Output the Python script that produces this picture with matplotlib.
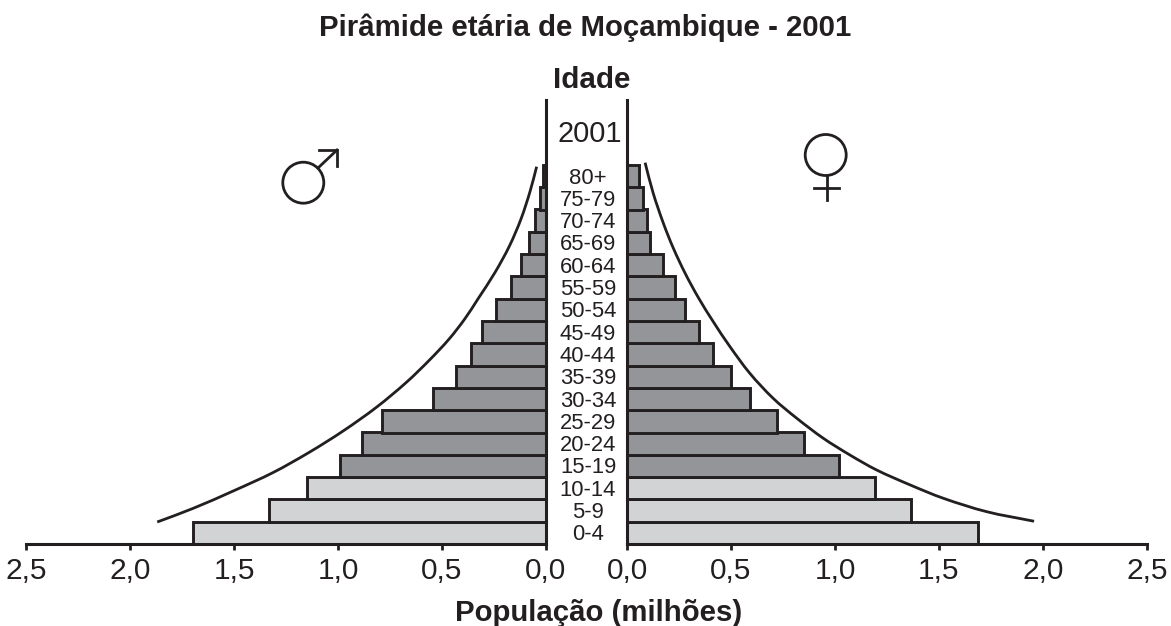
import matplotlib
matplotlib.use("Agg")
import matplotlib.pyplot as plt
from matplotlib.lines import Line2D
from matplotlib.patches import Circle
from matplotlib.path import Path
from matplotlib.patches import PathPatch
import numpy as np

plt.rcParams['font.family'] = ['Liberation Sans', 'DejaVu Sans']

age_groups = ["0-4", "5-9", "10-14", "15-19", "20-24", "25-29", "30-34", "35-39", "40-44",
              "45-49", "50-54", "55-59", "60-64", "65-69", "70-74", "75-79", "80+"]
male = [1.695, 1.33, 1.15, 0.99, 0.885, 0.79, 0.545, 0.435, 0.36,
        0.31, 0.24, 0.17, 0.12, 0.08, 0.055, 0.03, 0.016]
female = [1.686, 1.367, 1.19, 1.02, 0.853, 0.723, 0.593, 0.50, 0.415,
          0.348, 0.28, 0.23, 0.175, 0.112, 0.095, 0.075, 0.06]
light_groups = 3  # the three youngest groups are drawn in light grey

male_curve_val = [1.869, 1.696, 1.503, 1.311, 1.135, 0.975, 0.814, 0.670, 0.558, 0.466,
                  0.390, 0.325, 0.245, 0.176, 0.120, 0.077, 0.045]
male_curve_age = [0.987, 1.60, 2.38, 3.21, 4.13, 5.07, 6.14, 7.26, 8.27, 9.19,
                  10.10, 11.02, 12.18, 13.36, 14.58, 15.80, 16.92]
female_curve_val = [1.957, 1.729, 1.521, 1.361, 1.200, 1.072, 0.944, 0.816, 0.703, 0.591, 0.495,
                    0.416, 0.343, 0.279, 0.223, 0.175, 0.126, 0.087]
female_curve_age = [1.02, 1.45, 2.05, 2.65, 3.32, 3.99, 4.74, 5.64, 6.53, 7.65, 8.85,
                    9.95, 11.05, 12.15, 13.26, 14.38, 15.73, 17.10]

xticks = [0, 0.5, 1.0, 1.5, 2.0, 2.5]
xticklabels = ["0,0", "0,5", "1,0", "1,5", "2,0", "2,5"]

INK = "#231f20"
DARK = "#939598"
LIGHT = "#d1d3d4"
W, H = 1171, 626
PX_PER_VAL = 208
PX_PER_ROW = 22.3

fig = plt.figure(figsize=(W / 100, H / 100), dpi=100, facecolor="white")


def make_axes(x0, x1, reverse):
    y_top, y_base = 100, 544
    ax = fig.add_axes([x0 / W, 1 - y_base / H, (x1 - x0) / W, (y_base - y_top) / H])
    ax.set_xlim(2.5, 0) if reverse else ax.set_xlim(0, 2.5)
    ax.set_ylim(0, (y_base - y_top) / PX_PER_ROW)
    ax.patch.set_alpha(0)
    for s in ax.spines.values():
        s.set_visible(False)
    ax.spines['bottom'].set_visible(True)
    ax.spines['bottom'].set_linewidth(2.2)
    ax.spines['bottom'].set_color(INK)
    inner = 'right' if reverse else 'left'
    ax.spines[inner].set_visible(True)
    ax.spines[inner].set_linewidth(2.2)
    ax.spines[inner].set_color(INK)
    ax.set_yticks([])
    ax.set_xticks(xticks, xticklabels)
    ax.tick_params(axis='x', length=4.5, width=2.0, color=INK, labelcolor=INK, labelsize=21.5, pad=5)
    return ax


def smooth_curve(ax, xs, ys):
    scale = np.array([PX_PER_VAL, PX_PER_ROW])
    p = np.column_stack([xs, ys]) * scale
    n = len(p)
    tang = []
    for i in range(n):
        v = p[min(i + 1, n - 1)] - p[max(i - 1, 0)]
        tang.append(v / np.hypot(*v))
    verts = [tuple(p[0] / scale)]
    codes = [Path.MOVETO]
    for i in range(n - 1):
        seg = np.hypot(*(p[i + 1] - p[i])) / 3
        verts += [tuple((p[i] + tang[i] * seg) / scale),
                  tuple((p[i + 1] - tang[i + 1] * seg) / scale),
                  tuple(p[i + 1] / scale)]
        codes += [Path.CURVE4] * 3
    ax.add_patch(PathPatch(Path(verts, codes), fill=False, edgecolor=INK, lw=2.0, clip_on=False))


ax_l = make_axes(26, 546, True)
ax_r = make_axes(627, 1147, False)
y = np.arange(len(age_groups)) + 0.5
colors = [LIGHT if i < light_groups else DARK for i in range(len(age_groups))]
ax_l.barh(y, male, height=1, color=colors, edgecolor=INK, linewidth=2.1, zorder=2)
ax_r.barh(y, female, height=1, color=colors, edgecolor=INK, linewidth=2.1, zorder=2)
smooth_curve(ax_l, male_curve_val, male_curve_age)
smooth_curve(ax_r, female_curve_val, female_curve_age)


def ptext(x, y_px, s, **kw):
    fig.text(x / W, 1 - y_px / H, s, ha='center', va='center', color=INK, **kw)


ptext(585, 28, "Pirâmide etária de Moçambique - 2001", fontsize=21.2, fontweight='bold')
ptext(592, 80, "Idade", fontsize=21.3, fontweight='bold')
ptext(590, 134, "2001", fontsize=20.8)
ptext(598.5, 613, "População (milhões)", fontsize=21.2, fontweight='bold')
for i, lab in enumerate(age_groups):
    ptext(588, 546 - (i + 0.5) * PX_PER_ROW, lab, fontsize=15.8)

# gender symbols, placed in figure pixels
sym = fig.add_axes([0, 0, 1, 1])
sym.set_xlim(0, W)
sym.set_ylim(H, 0)
sym.axis('off')
sym.patch.set_alpha(0)
sym.add_patch(Circle((303.3, 182.7), 20.5, fill=False, edgecolor=INK, lw=2.0))
sym.add_line(Line2D([318, 337], [168, 150], color=INK, lw=2.0))
sym.add_line(Line2D([319, 337, 337], [150, 150, 166], color=INK, lw=2.0, solid_joinstyle='miter'))
sym.add_patch(Circle((825.7, 155), 20.5, fill=False, edgecolor=INK, lw=2.0))
sym.add_line(Line2D([827, 827], [175.5, 200], color=INK, lw=2.0))
sym.add_line(Line2D([814, 839], [188, 188], color=INK, lw=2.0))

fig.savefig("out.png", dpi=100)
